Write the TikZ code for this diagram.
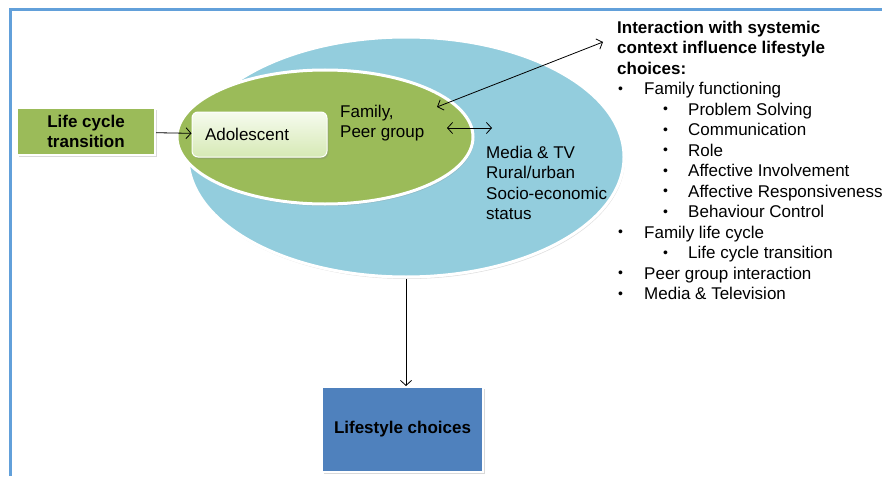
\documentclass[tikz,border=0pt]{standalone}
\usepackage{fontspec}
\setmainfont{Liberation Sans}
\usetikzlibrary{shapes.geometric,shadows,arrows.meta}

\definecolor{leafgreen}{HTML}{9BBB59}
\definecolor{skyblue}{HTML}{93CDDD}
\definecolor{steelblue}{HTML}{4F81BD}
\definecolor{frameblue}{HTML}{62A0DA}
\definecolor{palegreen}{HTML}{F6FBEE}
\definecolor{mintgreen}{HTML}{D6E9B5}

% bullets of the list on the right
\newcommand{\bulletdot}{\raisebox{1.2pt}{\fontsize{14}{14}\selectfont\textbullet}}
\newcommand{\itm}{\makebox[27pt][l]{\hspace{1pt}\bulletdot}}
\newcommand{\subitm}{\hspace{46pt}\makebox[25pt][l]{\bulletdot}}

\begin{document}
\begin{tikzpicture}[x=1pt,y=-1pt,>={Straight Barb[length=5pt,width=11pt]},
  every node/.style={font=\fontsize{17}{20.5}\selectfont},
  ring/.style={ellipse, draw=white, line width=3pt, inner sep=0pt,
    drop shadow={opacity=.25, shadow xshift=1pt, shadow yshift=-2pt}},
  tile/.style={rectangle, draw=white, line width=2pt, inner sep=0pt,
    drop shadow={opacity=.3, shadow xshift=2pt, shadow yshift=-2pt}},
  txt/.style={inner sep=0pt, align=left},
  link/.style={line width=.8pt}]
\useasboundingbox (0,0) rectangle (882,476);

% frame
\draw[frameblue, line width=3pt] (10,476) -- (10,10) -- (882,10);

% the two circles of influence
\node[ring, fill=skyblue, minimum width=436pt, minimum height=240pt] (outer) at (406,157) {};
\node[ring, fill=leafgreen, minimum width=296pt, minimum height=134pt] (inner) at (325,137) {};

\node[tile, fill=leafgreen, minimum width=138pt, minimum height=47pt, align=center,
  font=\fontsize{17}{20.5}\selectfont\bfseries] (lct) at (86,131.5) {Life cycle\\transition};
\node[rectangle, rounded corners=6pt, draw=white, line width=1pt, top color=palegreen, bottom color=mintgreen,
  minimum width=135pt, minimum height=45pt, text width=109pt, inner xsep=13pt, align=left,
  drop shadow={opacity=.3, shadow xshift=1.5pt, shadow yshift=-2pt}] (adol) at (259.5,134.5) {Adolescent};

\node[txt, anchor=north west] (fam) at (340,104.5) {Family,\\Peer group};
\node[txt, anchor=north west] (media) at (486,145.5) {Media \& TV\\Rural/urban\\Socio-economic\\status};

\node[tile, fill=steelblue, minimum width=161pt, minimum height=85pt,
  font=\fontsize{17}{20.5}\selectfont\bfseries] (life) at (402.5,429.5) {Lifestyle choices};

% systemic context list
\node[txt, anchor=north west] (ctx) at (617,20.5) {%
  \textbf{Interaction with systemic}\\
  \textbf{context influence lifestyle}\\
  \textbf{choices:}\\
  \itm Family functioning\\
  \subitm Problem Solving\\
  \subitm Communication\\
  \subitm Role\\
  \subitm Affective Involvement\\
  \subitm Affective Responsiveness\\
  \subitm Behaviour Control\\
  \itm Family life cycle\\
  \subitm Life cycle transition\\
  \itm Peer group interaction\\
  \itm Media \& Television};

\coordinate (famin) at (437,107);
\coordinate (ctxin) at (603,42);
\coordinate (peerout) at (447,128);
\coordinate (mediain) at (492,128);

% arrows
\draw[link, ->] (lct) -- (adol);
\draw[link, <->] (famin) -- (ctxin);
\draw[link, <->] (peerout) -- (mediain);
\draw[link, ->] (outer.south) -- (outer.south |- life.north);

\end{tikzpicture}
\end{document}
